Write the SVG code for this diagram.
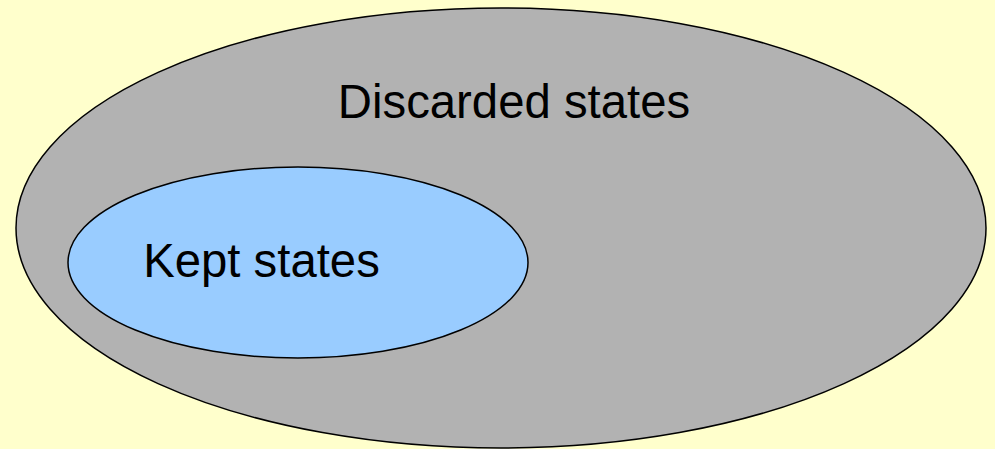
<svg xmlns="http://www.w3.org/2000/svg" width="995" height="449" viewBox="0 0 995 449">
  <style>
    .set { stroke: #000; stroke-width: 1.5; }
    .label { font-family: "Liberation Sans", Arial, sans-serif; font-size: 47.3px; fill: #000; }
  </style>
  <rect width="995" height="449" fill="#FFFFCC"/>
  <g id="discarded">
    <ellipse class="set" cx="501" cy="228" rx="485" ry="220" fill="#B2B2B2"/>
    <text class="label" x="514" y="118" text-anchor="middle">Discarded states</text>
  </g>
  <g id="kept">
    <ellipse class="set" cx="298" cy="262.5" rx="230" ry="95.5" fill="#99CCFF"/>
    <text class="label" x="261.5" y="277" text-anchor="middle">Kept states</text>
  </g>
</svg>
